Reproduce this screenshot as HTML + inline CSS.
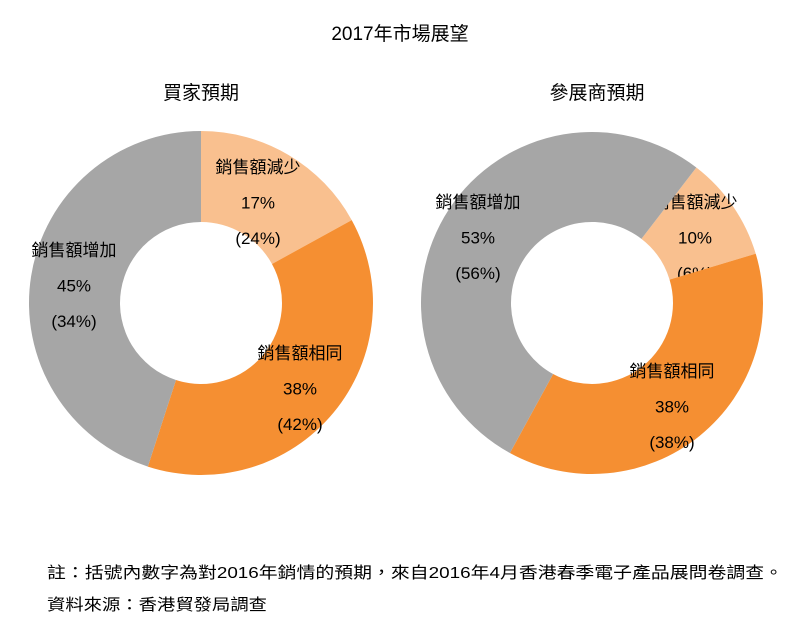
<!DOCTYPE html>
<html><head><meta charset="utf-8"><style>
html,body{margin:0;padding:0;background:#fff;width:800px;height:633px;overflow:hidden}
text{font-family:"Liberation Sans","Noto Sans CJK TC",sans-serif;fill:#000}
</style></head><body>
<svg id="chart" width="800" height="633">
<text x="400" y="40" font-size="19" text-anchor="middle">2017年市場展望</text>
<text x="201" y="99" font-size="19" text-anchor="middle">買家預期</text>
<text x="597" y="99" font-size="19" text-anchor="middle">參展商預期</text>
<g id="pies"></g>
<text x="47" y="578" font-size="16" textLength="736" lengthAdjust="spacingAndGlyphs">註：括號內數字為對2016年銷情的預期，來自2016年4月香港春季電子產品展問卷調查。</text>
<text x="47" y="610" font-size="16" textLength="220" lengthAdjust="spacingAndGlyphs">資料來源：香港貿發局調查</text>
</svg>
<script>
const categories = ["銷售額減少", "銷售額相同", "銷售額增加"];
const buyerValues = [17, 38, 45];
const buyerPrev = [24, 42, 34];
const exhibitorValues = [10, 38, 53];
const exhibitorPrev = [6, 38, 56];
const colors = ["#f9c08f", "#f58f32", "#a6a6a6"];

const NS = "http://www.w3.org/2000/svg";
const g = document.getElementById("pies");
function pt(cx, cy, r, deg){const a=(deg-90)*Math.PI/180;return [cx+r*Math.cos(a), cy+r*Math.sin(a)];}
function drawPie(name, cx, cy, R, r, start, vals, prev, labelPos){
  const total = vals.reduce((a,b)=>a+b,0);
  let ang = start;
  vals.forEach((v,i)=>{
    const sweep = v/total*360, a0=ang, a1=ang+sweep;
    const [x0,y0]=pt(cx,cy,R,a0),[x1,y1]=pt(cx,cy,R,a1),[x2,y2]=pt(cx,cy,r,a1),[x3,y3]=pt(cx,cy,r,a0);
    const large = sweep>180?1:0;
    const p=document.createElementNS(NS,"path");
    p.setAttribute("d",`M${x0},${y0}A${R},${R} 0 ${large} 1 ${x1},${y1}L${x2},${y2}A${r},${r} 0 ${large} 0 ${x3},${y3}Z`);
    p.setAttribute("fill",colors[i]);
    
    
    g.appendChild(p);
    const lp = labelPos[i];
    [categories[i], vals[i]+"%", "("+prev[i]+"%)"].forEach((s,k)=>{
      const t=document.createElementNS(NS,"text");
      t.setAttribute("x",lp[0]); t.setAttribute("y",lp[1]+k*35.5);
      t.setAttribute("font-size","17"); t.setAttribute("text-anchor","middle");
      t.textContent=s;
      
      
      g.appendChild(t);
    });
    ang=a1;
  });
}
drawPie("buyer",201,303,172,81,0,buyerValues,buyerPrev,[[258,173],[300,359],[74,256]]);
drawPie("exhibitor",592,303,171,81,37.6,exhibitorValues,exhibitorPrev,[[695,208],[672,377],[478,208]]);
</script>
</body></html>
